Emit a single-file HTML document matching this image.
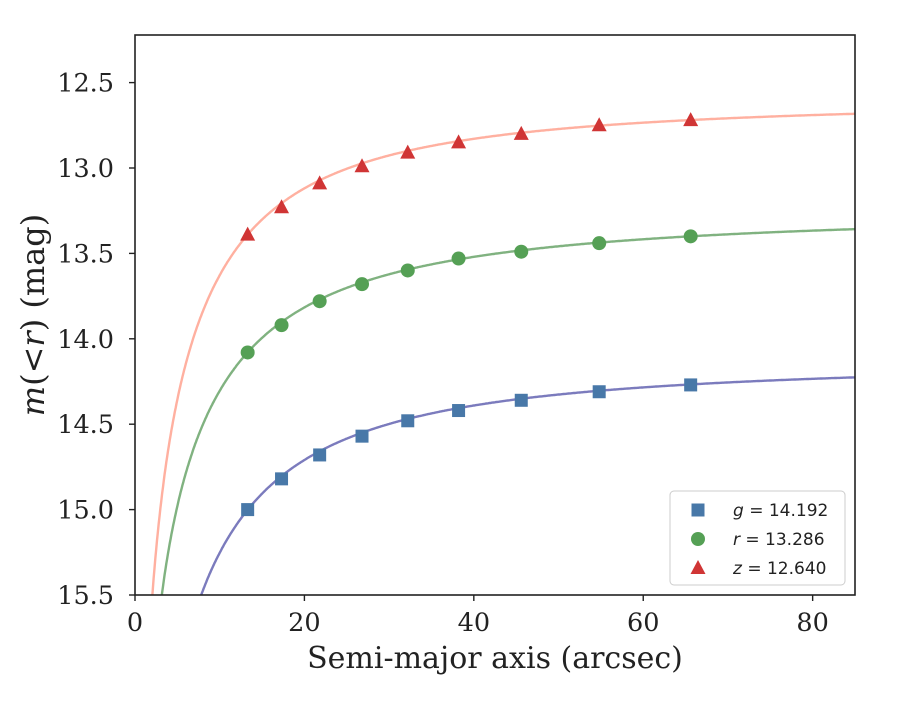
<!DOCTYPE html>
<html><head><meta charset="utf-8"><style>
body{margin:0;background:#fff}
svg text{font-family:"DejaVu Serif","Liberation Serif",serif;fill:#222}
</style></head><body>
<svg id="chart" width="900" height="700" xmlns="http://www.w3.org/2000/svg">
<rect x="135" y="35" width="720" height="560" fill="#fff"/>
<g id="curves"></g><g id="marks"></g>
<rect x="135" y="35" width="720" height="560" fill="none" stroke="#222" stroke-width="1.6"/>
<g id="axes"></g>
<text x="495" y="668" font-size="30" text-anchor="middle">Semi-major axis (arcsec)</text>
<text transform="translate(44,315) rotate(-90)" font-size="32" text-anchor="middle"><tspan font-style="italic">m</tspan>(&lt;<tspan font-style="italic">r</tspan>) (mag)</text>
<g>
<rect x="670" y="491" width="175" height="94" rx="4" fill="#fff" stroke="#ccc"/>
<g id="legend"></g>
</g>
</svg>
<script>
const radii=[13.3,17.3,21.8,26.8,32.2,38.2,45.6,54.8,65.6];
const gMag=[15.0,14.82,14.68,14.57,14.48,14.42,14.36,14.31,14.27];
const rMag=[14.08,13.92,13.78,13.68,13.60,13.53,13.49,13.44,13.40];
const zMag=[13.39,13.23,13.09,12.99,12.91,12.85,12.80,12.75,12.72];
const totals=[14.192,13.286,12.640];
const asymptotes=[14.12,13.24,12.59];
const coreRadii=[15.7,15.04,14.17];
const slopes=[1.35,1.25,1.35];
const bandNames=['g','r','z'];
const xTicks=[0,20,40,60,80];
const yTicks=[12.5,13.0,13.5,14.0,14.5,15.0,15.5];
const NS='http://www.w3.org/2000/svg';
const X=v=>135+v*(720/85);
const Y=m=>595-(15.5-m)*170.8;
function mk(t,a,p){const e=document.createElementNS(NS,t);for(const k in a)e.setAttribute(k,a[k]);p.appendChild(e);return e;}
const defs=mk('defs',{},document.getElementById('chart'));
const cp=mk('clipPath',{id:'clip'},defs);mk('rect',{x:135,y:35,width:720,height:560},cp);
const axes=document.getElementById('axes');
xTicks.forEach(v=>{
 const l=mk('line',{x1:X(v),x2:X(v),y1:595,y2:601,stroke:'#222','stroke-width':1.4},axes);
 
 
 const t=mk('text',{x:X(v),y:631,'font-size':25.5,'text-anchor':'middle'},axes);t.textContent=v;
 
 
});
yTicks.forEach(v=>{
 const l=mk('line',{x1:129,x2:135,y1:Y(v),y2:Y(v),stroke:'#222','stroke-width':1.4},axes);
 
 
 const t=mk('text',{x:114,y:Y(v)+9,'font-size':25.5,'text-anchor':'end'},axes);t.textContent=v.toFixed(1);
 
 
});
const lineCols=['#7b7bbd','#80b280','#ffb0a0'];
const markCols=['#4878a8','#55a055','#d03535'];
const series=[gMag,rMag,zMag];
const curves=document.getElementById('curves'),marks=document.getElementById('marks');
for(let s=0;s<3;s++){
 let d='';
 for(let r=0.2;r<=85.2;r+=0.1){
  let m=asymptotes[s]+2.5*Math.log10(1+Math.pow(coreRadii[s]/r,slopes[s]));
  if(m>15.7)continue;
  d+=(d?'L':'M')+X(r).toFixed(1)+','+Y(m).toFixed(1);
 }
 const p=mk('path',{d:d,fill:'none',stroke:lineCols[s],'stroke-width':2.4,'clip-path':'url(#clip)'},curves);
 
 
 series[s].forEach((m,i)=>{
  const x=X(radii[i]),y=Y(m);let e;
  if(s==0)e=mk('rect',{x:x-6.5,y:y-6.5,width:13,height:13,fill:markCols[0]},marks);
  else if(s==1)e=mk('circle',{cx:x,cy:y,r:7,fill:markCols[1]},marks);
  else e=mk('polygon',{points:`${x},${y-8} ${x+7.5},${y+6} ${x-7.5},${y+6}`,fill:markCols[2]},marks);
  
  
 });
}
const lg=document.getElementById('legend');
for(let s=0;s<3;s++){
 const x=698,y=510+s*29;let e;
 if(s==0)e=mk('rect',{x:x-6.5,y:y-6.5,width:13,height:13,fill:markCols[0]},lg);
 else if(s==1)e=mk('circle',{cx:x,cy:y,r:7,fill:markCols[1]},lg);
 else e=mk('polygon',{points:`${x},${y-8} ${x+7.5},${y+6} ${x-7.5},${y+6}`,fill:markCols[2]},lg);
 
 
 const t=mk('text',{x:733,y:y+6,'font-size':17,style:'font-family:"DejaVu Sans","Liberation Sans",sans-serif'},lg);
 t.innerHTML='<tspan font-style="italic">'+bandNames[s]+'</tspan> = '+totals[s].toFixed(3);
 
 
}
</script>
</body></html>
